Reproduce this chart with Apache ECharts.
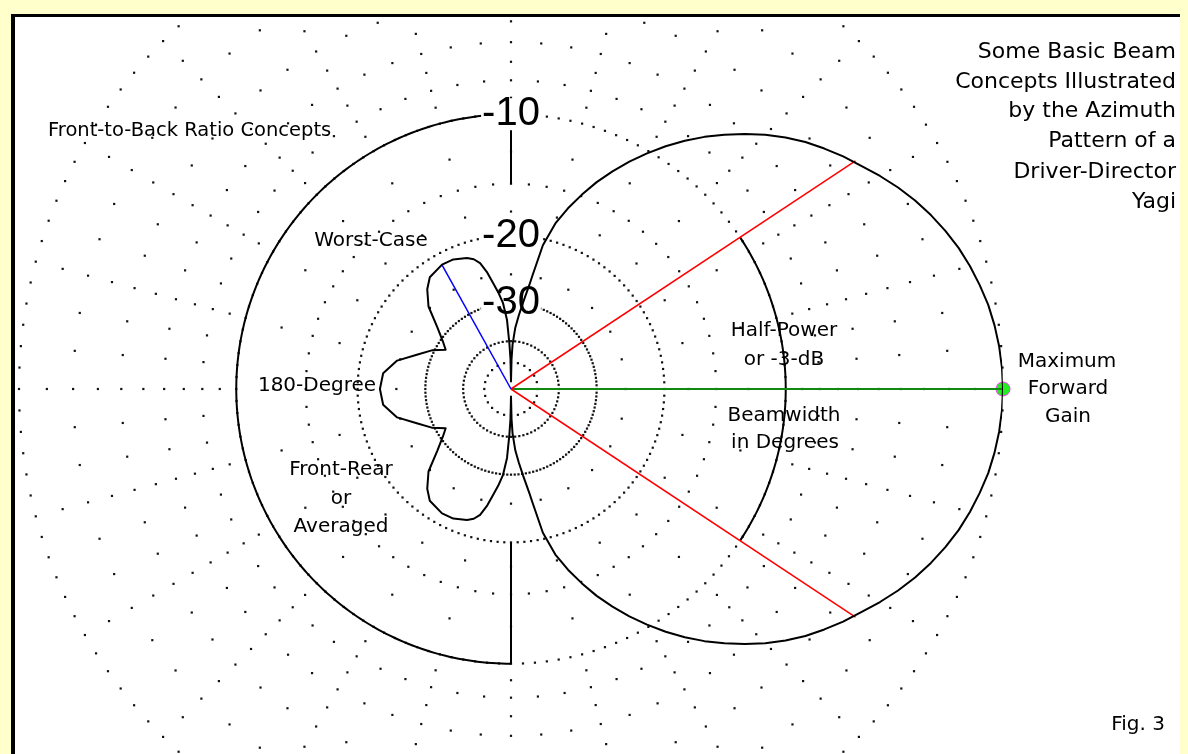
<!DOCTYPE html>
<html>
<head>
<meta charset="utf-8">
<script src="https://cdn.jsdelivr.net/npm/echarts@6/dist/echarts.min.js"></script>
<style>
html,body{margin:0;padding:0;background:#ffffcc;}
#chart{width:1188px;height:754px;}
</style>
</head>
<body>
<div id="chart"></div>
<script>
// ---- Azimuth pattern (upper half; pattern is symmetric) : angle in degrees CCW from forward, gain in dB relative to maximum
const patternAngles = [0,2.5,5,7.5,10,12.5,15,17.5,20,22.5,25,27.5,30,32.5,35,37.5,40,42.5,45,47.5,50,52.5,55,57.5,60,62.5,65,67.5,70,72.5,75,77.5,79.4,80,82,84,86,88,89,90,91,92,93.3,95.3,97.5,99.6,101.5,103.8,106,108.6,114,119,126,130,135,140,145,149,154,160,166,173,180];
const patternDb     = [0,-0.02,-0.07,-0.15,-0.26,-0.42,-0.6,-0.81,-1.07,-1.36,-1.69,-2.06,-2.47,-2.91,-3.32,-3.77,-4.24,-4.78,-5.38,-6.05,-6.75,-7.50,-8.32,-9.20,-10.17,-11.19,-12.31,-13.51,-14.89,-16.38,-18.1,-20.7,-25.1,-26.4,-29.6,-32.6,-35.7,-41.3,-48.3,-72,-48,-41,-33.7,-29.9,-27.8,-26.1,-24.4,-22.9,-22.2,-21.8,-21.35,-21.3,-21.8,-22.8,-24.7,-28.0,-30.5,-32.0,-29.5,-27.3,-24.6,-23.0,-22.7];

// ---- Annotated points
const maxGainAngle = 0,       maxGainDb = 0;
const halfPowerAngle = 33.5,  halfPowerDb = -3;
const worstRearAngle = 119.1, worstRearDb = -21.3;

// ---- Reference ring annotations
const ringLabels = [-10, -20, -30];
const fbArcDb = -10;                 // front-to-back reference arc
const fbArcFrom = 90, fbArcTo = 270;
const bwArcDb = -10;                 // beamwidth arc between the half-power lines
const upperAxisDb = [-10, -15];      // solid axis segment at 90 deg
const lowerAxisDb = [-10, -20];      // solid axis segment at 270 deg

// ---- Grid (ARRL log scale): ring level in dB and angular spacing of its dots
const gridRingDb   = [0, -1, -2, -3, -4, -5, -6, -7, -8, -9, -10, -12.5, -15, -17.5, -20, -25, -30, -40, -50];
const gridRingStep = [2.5, 15, 5, 15, 5, 15, 5, 15, 5, 15, 2.5, 15, 5, 15, 2.5, 15, 2.5, 5, 15];

// ARRL log-periodic radial scale: 0.89 per 2 dB
const R = db => Math.pow(0.89, -db / 2);

// build grid dots
const gridDots = [];
gridRingDb.forEach((db, i) => {
  const st = gridRingStep[i];
  for (let a = 0; a < 360 - 1e-6; a += st) gridDots.push([R(db), a]);
});

// full pattern, upper half then mirrored lower half
const patternData = [];
for (let i = 0; i < patternAngles.length; i++) patternData.push([R(patternDb[i]), patternAngles[i]]);
for (let i = patternAngles.length - 2; i >= 0; i--) patternData.push([R(patternDb[i]), 360 - patternAngles[i]]);

function arc(db, from, to) {
  const out = [];
  for (let a = from; a <= to + 1e-6; a += 1) out.push([R(db), a]);
  return out;
}

const chart = echarts.init(document.getElementById('chart'), null, {renderer: 'canvas'});

const baseLine = (data, color, width, z) => ({
  type: 'line', coordinateSystem: 'polar', data: data, showSymbol: false, symbol: 'none',
  smooth: false,
  lineStyle: {color: color, width: width, join: 'round'}, z: z, silent: true, animation: false, clip: false
});

const txt = (text, x, y, size, align) => ({
  type: 'text', z: 50, silent: true,
  style: {
    text: text, x: x, y: y,
    font: size + 'px "DejaVu Sans", sans-serif',
    fill: '#000',
    align: align || 'center', verticalAlign: 'middle',
    textAlign: align || 'center', textVerticalAlign: 'middle'
  }
});

const option = {
  animation: false,
  backgroundColor: '#ffffff',
  polar: {center: [511, 389], radius: 492},
  angleAxis: {
    type: 'value', min: 0, max: 360, startAngle: 0, clockwise: false,
    axisLine: {show: false}, axisTick: {show: false}, axisLabel: {show: false}, splitLine: {show: false}
  },
  radiusAxis: {
    type: 'value', min: 0, max: 1,
    axisLine: {show: false}, axisTick: {show: false}, axisLabel: {show: false}, splitLine: {show: false}
  },
  series: [
    {
      type: 'scatter', coordinateSystem: 'polar', data: gridDots, symbol: 'rect', symbolSize: 2.2,
      itemStyle: {color: '#111', opacity: 1}, z: 1, silent: true, animation: false
    },
    baseLine(arc(fbArcDb, fbArcFrom, fbArcTo), '#000', 2, 2),
    baseLine(arc(bwArcDb, -halfPowerAngle, halfPowerAngle), '#000', 2, 2),
    baseLine([[R(upperAxisDb[0]), 90], [R(upperAxisDb[1]), 90]], '#000', 2, 2),
    baseLine([[R(lowerAxisDb[0]), 270], [R(lowerAxisDb[1]), 270]], '#000', 2, 2),
    {
      type: 'scatter', coordinateSystem: 'polar', symbolSize: 1, z: 3, silent: true, animation: false,
      itemStyle: {color: 'rgba(0,0,0,0)', opacity: 1},
      data: ringLabels.map(d => ({value: [R(d), 90], name: String(d)})),
      label: {
        show: true, position: 'inside', formatter: p => p.name,
        fontFamily: '"Liberation Sans", Arial, sans-serif', fontSize: 40, color: '#000',
        textBorderWidth: 0, backgroundColor: '#ffffff', padding: [0, 1], lineHeight: 32
      }
    },
    {
      type: 'scatter', coordinateSystem: 'polar', symbol: 'circle', symbolSize: 14, z: 3.5, silent: true, animation: false,
      itemStyle: {color: '#22ee22', borderColor: '#ff33ff', borderWidth: 1, opacity: 1},
      data: [[R(maxGainDb), maxGainAngle]]
    },
    baseLine([[0, 0], [R(maxGainDb), maxGainAngle]], '#118811', 2, 3.6),
    baseLine([[0, 0], [R(halfPowerDb), halfPowerAngle]], '#ff0000', 1.5, 3.6),
    baseLine([[0, 0], [R(halfPowerDb), 360 - halfPowerAngle]], '#ff0000', 1.5, 3.6),
    baseLine([[0, 0], [R(worstRearDb), worstRearAngle]], '#0000ff', 1.5, 3.6),
    baseLine(patternData, '#000', 2, 4)
  ],
  graphic: [
    txt('Front-to-Back Ratio Concepts', 48, 131, 19.5, 'left'),
    txt('Some Basic Beam', 1176, 52, 22, 'right'),
    txt('Concepts Illustrated', 1176, 82, 22, 'right'),
    txt('by the Azimuth', 1176, 111, 22, 'right'),
    txt('Pattern of a', 1176, 141, 22, 'right'),
    txt('Driver-Director', 1176, 172, 22, 'right'),
    txt('Yagi', 1176, 202, 22, 'right'),
    txt('Worst-Case', 371, 241, 20),
    txt('180-Degree', 317, 386, 20),
    txt('Front-Rear', 341, 470, 20),
    txt('or', 341, 499, 20),
    txt('Averaged', 341, 527, 20),
    txt('Half-Power', 784, 331, 20),
    txt('or -3-dB', 784, 360, 20),
    txt('Beamwidth', 784, 416, 20),
    txt('in Degrees', 785, 443, 20),
    txt('Maximum', 1067, 362, 20),
    txt('Forward', 1068, 389, 20),
    txt('Gain', 1068, 417, 20),
    txt('Fig. 3', 1138, 725, 20),
    // page margin and frame drawn over the plot area
    {type: 'rect', z: 100, silent: true, shape: {x: 0, y: 0, width: 1188, height: 14}, style: {fill: '#ffffcc'}},
    {type: 'rect', z: 100, silent: true, shape: {x: 0, y: 0, width: 11, height: 754}, style: {fill: '#ffffcc'}},
    {type: 'rect', z: 100, silent: true, shape: {x: 1180, y: 0, width: 8, height: 754}, style: {fill: '#ffffcc'}},
    {type: 'rect', z: 101, silent: true, shape: {x: 11, y: 14, width: 1169, height: 3}, style: {fill: '#000'}},
    {type: 'rect', z: 101, silent: true, shape: {x: 11, y: 14, width: 4, height: 740}, style: {fill: '#000'}}
  ]
};
chart.setOption(option);
</script>
</body>
</html>
